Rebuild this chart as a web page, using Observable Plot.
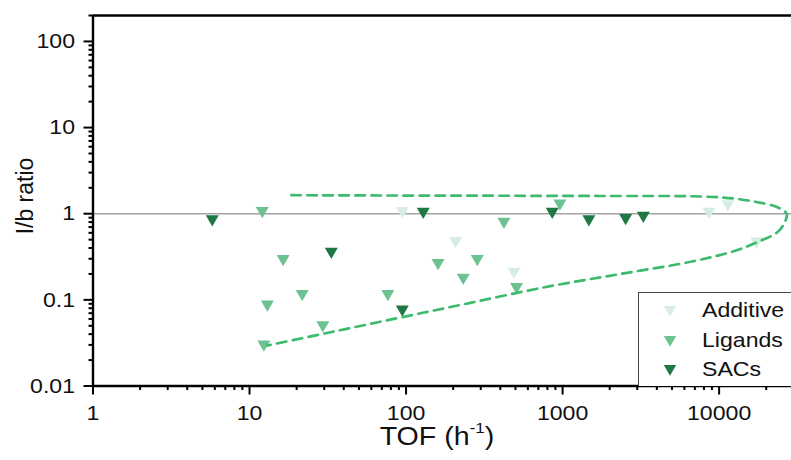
<!DOCTYPE html>
<html><head><meta charset="utf-8">
<script src="https://cdn.jsdelivr.net/npm/d3@7"></script>
<script src="https://cdn.jsdelivr.net/npm/@observablehq/plot@0.6"></script>
<style>
body{margin:0;background:#fff;}
#wrap{position:relative;width:791px;height:460px;overflow:hidden;font-family:"Liberation Sans",Arial,sans-serif;}
#legend{position:absolute;left:638px;top:292px;width:170px;height:94px;border:1px solid #444;border-bottom:none;background:#fff;box-sizing:border-box;}
#legend .row{position:absolute;left:0;height:30px;display:flex;align-items:center;}
#legend .row span{position:absolute;left:63px;font-size:21px;color:#111;white-space:nowrap;transform:scaleX(1.1);transform-origin:left center;}
#legend svg{position:absolute;left:24px;}
</style></head><body><div id="wrap"><div id="legend"></div></div>
<script>
// ---- data ----
const categories = ["Additive", "Ligands", "SACs"];
const colors = ["#d6eee2", "#6cc391", "#1d7843"];
const additiveTOF   = [94.6, 207, 489, 8610, 11380, 17370];
const additiveRatio = [1.08, 0.485, 0.213, 1.06, 1.30, 0.48];
const ligandsTOF    = [12.06, 16.4, 13.0, 21.7, 76.5, 29.4, 12.35, 160, 961, 422, 285, 232, 508];
const ligandsRatio  = [1.08, 0.30, 0.089, 0.118, 0.118, 0.051, 0.0305, 0.27, 1.32, 0.81, 0.30, 0.182, 0.142];
const sacsTOF       = [5.78, 33.3, 94.6, 128.8, 859, 1472, 2528, 3279];
const sacsRatio     = [0.87, 0.365, 0.078, 1.06, 1.06, 0.87, 0.90, 0.955];
const envelopeTOF   = [18.5, 92.2, 402, 1750, 7620, 12380, 17620, 23550, 27000, 25950, 23550, 17540, 12380, 6577, 2348, 798, 258, 92.2, 32.9, 12.98];
const envelopeRatio = [1.64, 1.626, 1.617, 1.606, 1.585, 1.50, 1.36, 1.19, 1.0, 0.763, 0.61, 0.467, 0.367, 0.277, 0.200, 0.142, 0.0924, 0.0624, 0.0421, 0.0295];
const xTicks = [1, 10, 100, 1000, 10000];
const yTicks = [0.01, 0.1, 1, 10, 100];
const xDomain = [1, 29000];
const yDomain = [0.01, 200];

// ---- build tables ----
const points = [];
[[additiveTOF, additiveRatio], [ligandsTOF, ligandsRatio], [sacsTOF, sacsRatio]].forEach(([xs, ys], k) => {
  xs.forEach((x, i) => points.push({tof: x, ratio: ys[i], cat: categories[k]}));
});
const envelope = envelopeTOF.map((x, i) => ({tof: x, ratio: envelopeRatio[i]}));
const minor = (lo, hi, max) => { const a = []; for (let e = lo; e <= hi; e++) for (let k = 2; k <= 9; k++) { const v = k * Math.pow(10, e); if (v <= max) a.push(+v.toPrecision(3)); } return a; };
const xMinor = minor(0, 4, xDomain[1]);
const yMinor = minor(-2, 2, yDomain[1]);

const triDown = {draw(ctx, size) {
  const y = Math.sqrt(size / (Math.sqrt(3) * 3));
  ctx.moveTo(0, 2 * y); ctx.lineTo(-Math.sqrt(3) * y, -y); ctx.lineTo(Math.sqrt(3) * y, -y); ctx.closePath();
}};
const fmt = d => String(d);

const plot = Plot.plot({
  width: 791, height: 460,
  marginLeft: 92.5, marginRight: 0, marginTop: 15, marginBottom: 74.5,
  x: {type: "log", domain: xDomain, label: null},
  y: {type: "log", domain: yDomain, label: null},
  color: {domain: categories, range: colors},
  style: {fontFamily: "Liberation Sans, Arial, sans-serif", background: "white"},
  marks: [
    Plot.ruleY([1], {stroke: "#a3a3a3", strokeWidth: 1.5}),
    Plot.dot(points, {x: "tof", y: "ratio", fill: "cat", symbol: triDown, r: 4.83}),
    Plot.line(envelope, {x: "tof", y: "ratio", stroke: "#3dba6e", strokeWidth: 2.7, strokeDasharray: "9.5,6.5", curve: "catmull-rom"}),
    Plot.axisX(xMinor, {tickSize: 4.5, tickFormat: () => "", strokeWidth: 2, label: null}),
    Plot.axisX(xTicks, {tickSize: 9, tickPadding: 10, tickFormat: fmt, strokeWidth: 2, fontSize: 21, fill: "#111", label: null}),
    Plot.axisY(yMinor, {tickSize: 4, tickFormat: () => "", strokeWidth: 2, label: null}),
    Plot.axisY(yTicks, {tickSize: 9, tickPadding: 9, tickFormat: fmt, strokeWidth: 2, fontSize: 21, fill: "#111", label: null}),
    Plot.ruleX([xDomain[0]], {stroke: "#000", strokeWidth: 2.4}),
    Plot.ruleY([yDomain[0]], {stroke: "#000", strokeWidth: 2.4}),
    Plot.ruleY([yDomain[1]], {stroke: "#000", strokeWidth: 2.4})
  ]
});

// stretch tick label text horizontally about its anchor
const svg = d3.select(plot);
svg.selectAll("text").each(function() {
  const tr = this.getAttribute("transform");
  if (tr) this.setAttribute("transform", tr + " scale(1.1,1)");
});

svg.append("text")
  .attr("transform", "translate(33,196) rotate(-90)")
  .attr("text-anchor", "middle").attr("font-size", 23).attr("fill", "#111")
  .text("I/b ratio");
const xl = svg.append("text")
  .attr("transform", "translate(437,445) scale(1.1,1)")
  .attr("text-anchor", "middle").attr("font-size", 26).attr("fill", "#111");
xl.append("tspan").text("TOF (h");
xl.append("tspan").attr("font-size", 15.5).attr("dy", -12).text("-1");
xl.append("tspan").attr("dy", 12).text(")");

document.getElementById("wrap").prepend(plot);

// legend
const leg = document.getElementById("legend");
categories.forEach((c, i) => {
  const row = document.createElement("div");
  row.className = "row";
  row.style.top = (2 + i * 29.5) + "px";
  row.innerHTML = `<svg width="14" height="14" viewBox="-7 -7 14 14" style="top:8px"><path d="${d3.symbol(triDown, Math.PI * 4.6 * 4.6)()}" fill="${colors[i]}" transform="translate(0,-0.5)"/></svg><span>${c}</span>`;
  leg.appendChild(row);
});
</script>
</body></html>
